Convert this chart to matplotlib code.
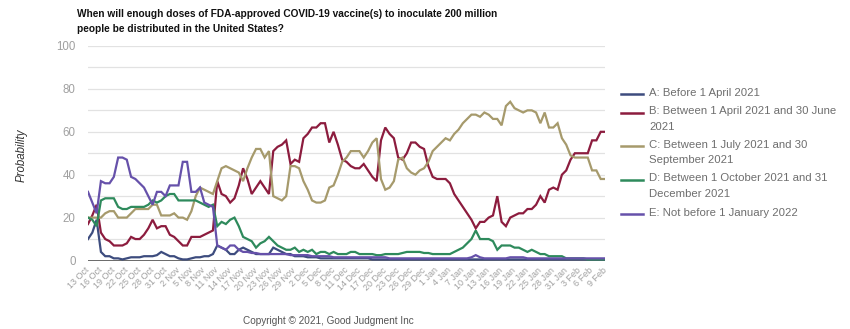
import numpy as np
import matplotlib
matplotlib.use("Agg")
from matplotlib import pyplot as plt
from matplotlib.lines import Line2D

plt.rcParams['font.family'] = ['Liberation Sans', 'DejaVu Sans']

# daily forecasts, 13 Oct 2020 .. 9 Feb 2021 (one value per day)
serie_a = [10, 13, 19, 4, 2, 2, 1, 1, 0.5, 1, 1.5, 1.5, 1.5, 2, 2, 2, 2.5, 4, 3, 2,
           2, 1, 0.5, 0.5, 1, 1.5, 1.5, 2, 2, 3, 7, 6, 5, 3, 3, 5, 6, 5, 4, 3,
           3, 3, 3, 6, 5, 4, 3, 3, 2, 2, 2, 1.5, 1.5, 1.5, 1, 1, 1, 1, 1, 1,
           1, 1, 1, 1, 1, 1, 0.5, 0.5, 0.5, 0.5, 0.5, 0.5, 0.5, 0.5, 0.5, 0.5, 0.5, 0.5, 0.5, 0.5,
           0.5, 0.5, 0.5, 0.5, 0.5, 0.5, 0.5, 0.5, 0.5, 0.5, 0.5, 0.5, 0.5, 0.5, 0.5, 0.5, 0.5, 0.5, 0.5, 0.5,
           0.5, 0.5, 0.5, 0.5, 0.5, 0.5, 0.5, 0.5, 0.5, 0.5, 0.5, 0.5, 0.5, 0.5, 0.5, 0.5, 0.5, 0.5, 0.5, 0.5,
           0.5]
serie_b = [17, 21, 26, 13, 10, 9, 7, 7, 7, 8, 11, 10, 10, 12, 15, 19, 15, 16, 16, 12,
           11, 9, 7, 7, 11, 11, 11, 12, 13, 14, 37, 31, 30, 27, 29, 35, 43, 38, 31, 34,
           37, 34, 31, 51, 53, 54, 56, 45, 47, 46, 57, 59, 62, 62, 64, 64, 55, 60, 54, 47,
           46, 44, 43, 43, 45, 42, 39, 37, 56, 62, 59, 57, 48, 47, 50, 55, 55, 53, 52, 44,
           39, 38, 38, 38, 36, 31, 28, 25, 22, 19, 15, 18, 18, 20, 21, 30, 18, 16, 20, 21,
           22, 22, 24, 24, 26, 30, 27, 33, 34, 33, 40, 42, 47, 50, 50, 50, 50, 56, 56, 60,
           60]
serie_c = [20, 20, 20, 20, 22, 23, 23, 20, 20, 20, 22, 24, 24, 24, 24, 26, 26, 21, 21, 21,
           22, 20, 20, 19, 23, 30, 34, 33, 32, 31, 37, 43, 44, 43, 42, 41, 37, 43, 48, 52,
           52, 48, 51, 30, 29, 28, 30, 44, 44, 43, 37, 33, 28, 27, 27, 28, 34, 35, 40, 46,
           48, 51, 51, 51, 48, 51, 55, 57, 38, 33, 34, 37, 47, 48, 43, 41, 40, 42, 43, 46,
           51, 53, 55, 57, 56, 59, 61, 64, 66, 68, 68, 67, 69, 68, 66, 66, 63, 72, 74, 71,
           70, 69, 70, 70, 69, 64, 69, 62, 62, 64, 57, 54, 49, 48, 48, 48, 48, 42, 42, 38,
           38]
serie_d = [20, 19, 16, 28, 29, 29, 29, 25, 24, 24, 25, 25, 25, 25, 26, 28, 27, 28, 30, 31,
           31, 28, 28, 28, 28, 28, 27, 26, 25, 26, 16, 18, 17, 19, 20, 16, 11, 10, 9, 6,
           8, 9, 11, 9, 7, 6, 5, 5, 6, 4, 5, 4, 5, 3, 4, 4, 3, 4, 3, 3,
           3, 4, 4, 3, 3, 3, 3, 2.5, 2.5, 3, 3, 3, 3, 3.5, 4, 4, 4, 4, 3.5, 3.5,
           3, 3, 3, 3, 3, 4, 5, 6, 8, 10, 14, 10, 10, 10, 9, 5, 7, 7, 7, 6,
           6, 5, 4, 5, 4, 3, 3, 2, 2, 2, 2, 1, 1, 1, 1, 1, 0.5, 0.5, 0.5, 0.5,
           0.5]
serie_e = [32, 27, 22, 37, 36, 36, 39, 48, 48, 47, 39, 38, 36, 34, 30, 26, 32, 32, 30, 35,
           35, 35, 46, 46, 32, 32, 34, 27, 26, 25, 7, 6, 5, 7, 7, 5, 4, 4, 3.5, 3.5,
           3, 3, 3, 3, 3, 3, 3, 2.5, 2.5, 2.5, 2.5, 2.5, 2, 2, 2, 2, 2, 1.5, 1.5, 1.5,
           1.5, 1.5, 1.5, 1.5, 1.5, 1.5, 1.5, 1.5, 1.5, 1.5, 1, 1, 1, 1, 1, 1, 1, 1, 1, 1,
           1, 1, 1, 1, 1, 1, 1, 1, 1, 1.5, 2.5, 1.5, 1, 1, 1, 1, 1, 1, 1.5, 1.5,
           1.5, 1.5, 1, 1, 1, 1, 1, 1, 1, 1, 1, 1, 1, 1, 1, 1, 1, 1, 1, 1,
           1]

etiquetas = ["A: Before 1 April 2021",
             "B: Between 1 April 2021 and 30 June\n2021",
             "C: Between 1 July 2021 and 30\nSeptember 2021",
             "D: Between 1 October 2021 and 31\nDecember 2021",
             "E: Not before 1 January 2022"]
colores = ["#3d4c7e", "#8c1c3e", "#a69a6c", "#2e8a5c", "#6651aa"]

fechas = ["13 Oct", "16 Oct", "19 Oct", "22 Oct", "25 Oct", "28 Oct", "31 Oct",
          "2 Nov", "5 Nov", "8 Nov", "11 Nov", "14 Nov", "17 Nov", "20 Nov", "23 Nov",
          "26 Nov", "29 Nov", "2 Dec", "5 Dec", "8 Dec", "11 Dec", "14 Dec", "17 Dec",
          "20 Dec", "23 Dec", "26 Dec", "29 Dec", "1 Jan", "4 Jan", "7 Jan", "10 Jan",
          "13 Jan", "16 Jan", "19 Jan", "22 Jan", "25 Jan", "28 Jan", "31 Jan",
          "3 Feb", "6 Feb", "9 Feb"]

W, H = 850, 329
fig = plt.figure(figsize=(W / 100, H / 100), dpi=100)
ax = fig.add_axes([88 / W, 1 - 260.5 / H, (605 - 88) / W, (260.5 - 46) / H])

series = [serie_a, serie_b, serie_c, serie_d, serie_e]
dias = np.arange(len(serie_a))
for s, col in zip(series, colores):
    ax.plot(dias, s, color=col, lw=1.6, solid_joinstyle='miter', zorder=3)

ax.set_xlim(0, len(serie_a) - 1)
ax.set_ylim(0, 100)
ax.set_yticks(np.arange(0, 101, 20))
ax.set_yticks(np.arange(0, 101, 10), minor=True)
ax.grid(True, which='both', axis='y', color='#e2e2e2', lw=0.9, zorder=0)
ax.axhline(0, color='#5c5c5c', lw=2.0, zorder=2)
for sp in ax.spines.values():
    sp.set_visible(False)
ax.tick_params(axis='y', which='both', length=0, pad=9, labelsize=8.3, labelcolor='#a0a0a0')
ax.tick_params(axis='y', which='minor', labelleft=False)

ax.set_xticks(np.arange(0, len(serie_a), 3))
ax.set_xticklabels(fechas, rotation=45, ha='right', va='center', rotation_mode='anchor',
                   fontsize=6.5, color='#a0a0a0')
ax.tick_params(axis='x', length=0, pad=6)

fig.text(22 / W, 1 - 155 / H, "Probability", rotation=90, style='italic',
         fontsize=8.3, color='#333333', ha='center', va='center')

fig.text(77 / W, 1 - 9 / H,
         "When will enough doses of FDA-approved COVID-19 vaccine(s) to inoculate 200 million\n"
         "people be distributed in the United States?",
         fontsize=7.3, fontweight='bold', color='#111111', ha='left', va='top', linespacing=1.6)

# legend drawn at the right of the plot
ley_y = [94, 112.5, 146, 179.5, 214]
for y, col, txt in zip(ley_y, colores, etiquetas):
    fig.add_artist(Line2D([621 / W, 643 / W], [1 - y / H, 1 - y / H], color=col, lw=1.8))
    fig.text(649 / W, 1 - (y - 6.5) / H, txt, fontsize=8.2, color='#6e6e6e',
             ha='left', va='top', linespacing=1.7)

fig.text(328 / W, 1 - 321 / H, "Copyright \u00a9 2021, Good Judgment Inc",
         fontsize=7.2, color='#555555', ha='center', va='center')

fig.savefig("out.png", dpi=100)
